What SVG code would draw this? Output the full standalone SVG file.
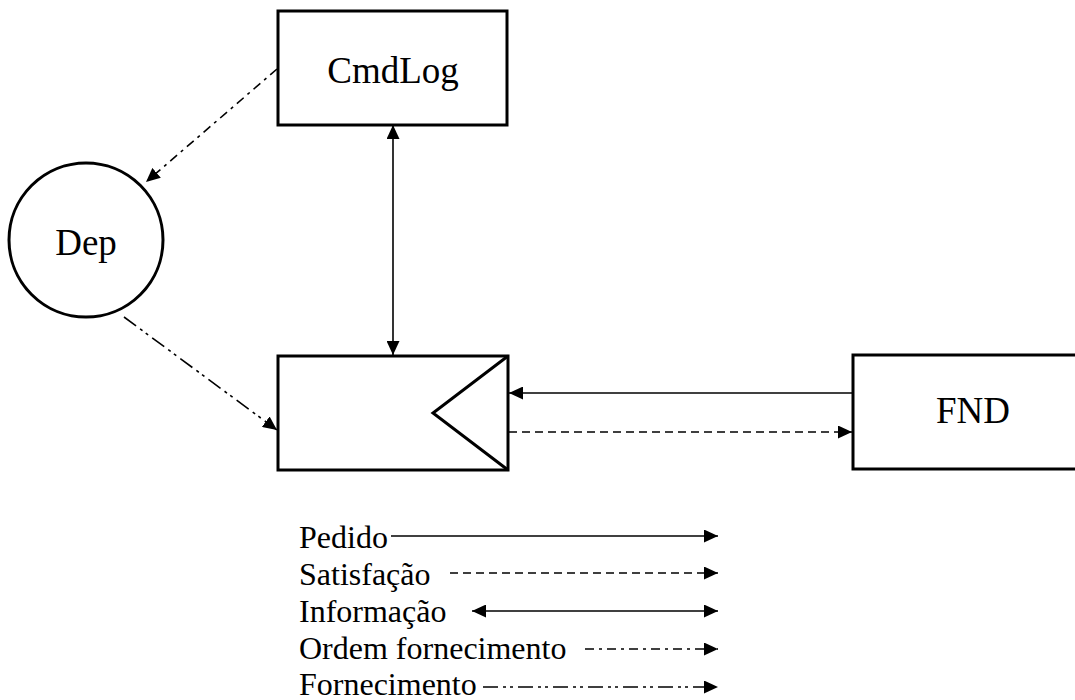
<svg xmlns="http://www.w3.org/2000/svg" width="1075" height="700" viewBox="0 0 1075 700">
<style>
.box{fill:#fff;stroke:#000;stroke-width:3}
.lbl{font-family:"Liberation Serif","Times New Roman",serif;font-size:37px;fill:#000}
.leg{font-family:"Liberation Serif","Times New Roman",serif;font-size:32px;fill:#000}
.c{fill:none;stroke:#000;stroke-width:1.6}
.dash{stroke-dasharray:8 5}
.dd{stroke-dasharray:9 5 3 5}
.ddd{stroke-dasharray:15 5 3 4 3 5}
</style>
<defs>
<marker id="ah" viewBox="0 0 14 13" refX="14" refY="6.5" markerWidth="14" markerHeight="13" markerUnits="userSpaceOnUse" orient="auto-start-reverse">
<path d="M0,0 L14,6.5 L0,13 Z" fill="#000"/>
</marker>
</defs>
<rect width="1075" height="700" fill="#fff"/>
<g id="connectors">
<line class="c dd" x1="277" y1="69" x2="146" y2="182" marker-end="url(#ah)"/>
<line class="c ddd" x1="124" y1="317" x2="277" y2="430" marker-end="url(#ah)"/>
<line class="c" x1="393" y1="125" x2="393" y2="355" marker-start="url(#ah)" marker-end="url(#ah)"/>
<line class="c" x1="853" y1="393" x2="509" y2="393" marker-end="url(#ah)"/>
<line class="c dash" x1="509" y1="432" x2="852" y2="432" marker-end="url(#ah)"/>
</g>
<g id="CmdLog">
<rect class="box" x="278" y="11" width="229" height="114"/>
<text class="lbl" x="393" y="83" text-anchor="middle">CmdLog</text>
</g>
<g id="Dep">
<circle class="box" cx="86" cy="240" r="77"/>
<text class="lbl" x="86" y="255" text-anchor="middle">Dep</text>
</g>
<g id="Store">
<rect class="box" x="278" y="356" width="230" height="114"/>
<polyline fill="none" stroke="#000" stroke-width="3" points="508,356 433,413 508,470"/>
</g>
<g id="FND">
<rect class="box" x="853" y="355" width="230" height="114"/>
<text class="lbl" x="973" y="423" text-anchor="middle">FND</text>
</g>
<g id="legend">
<text class="leg" x="299" y="548">Pedido</text>
<line class="c" x1="391" y1="536" x2="718" y2="536" marker-end="url(#ah)"/>
<text class="leg" x="299" y="585">Satisfação</text>
<line class="c dash" x1="450" y1="573" x2="718" y2="573" marker-end="url(#ah)"/>
<text class="leg" x="299" y="622">Informação</text>
<line class="c" x1="472" y1="611" x2="718" y2="611" marker-start="url(#ah)" marker-end="url(#ah)"/>
<text class="leg" x="299" y="659">Ordem fornecimento</text>
<line class="c dd" x1="585" y1="649" x2="718" y2="649" marker-end="url(#ah)"/>
<text class="leg" x="299" y="695">Fornecimento</text>
<line class="c ddd" x1="483" y1="687" x2="718" y2="687" marker-end="url(#ah)"/>
</g>
</svg>
